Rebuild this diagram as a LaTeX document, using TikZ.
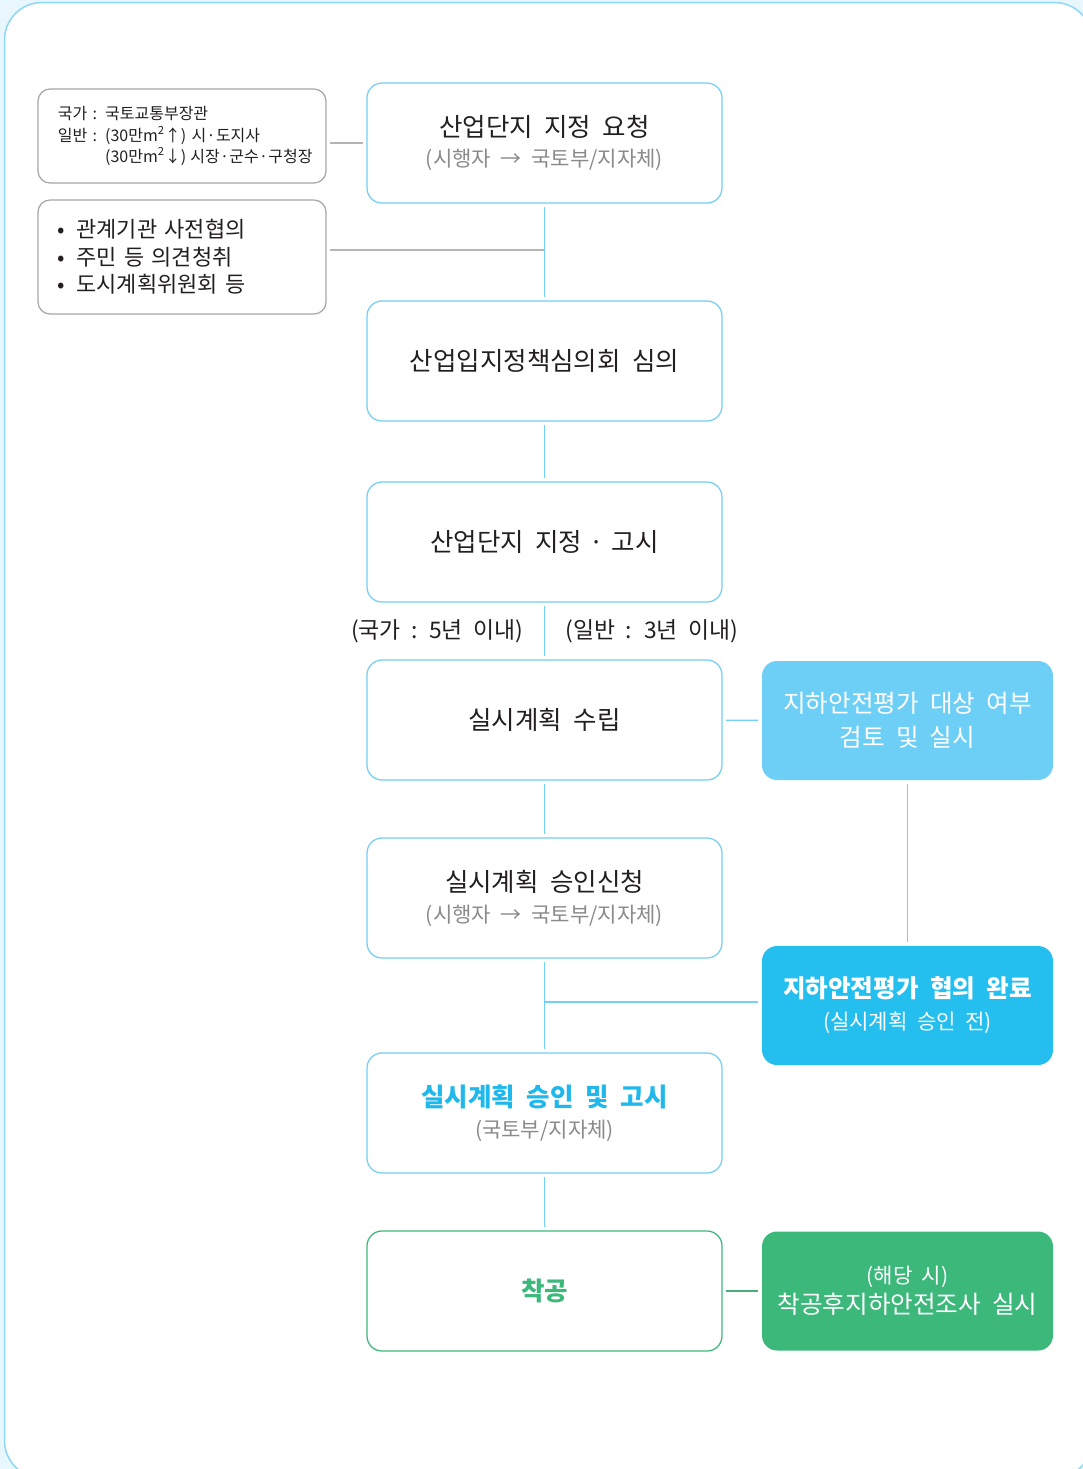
\documentclass[tikz,border=0pt]{standalone}
\usepackage{fontspec}
\setmainfont{Noto Sans CJK KR}[WordSpace=2]
\usepackage{tikz}
\usetikzlibrary{positioning}

\definecolor{bgblue}{HTML}{E8F6FD}
\definecolor{framecol}{HTML}{8DD7F7}
\definecolor{lineblue}{HTML}{74CFF5}
\definecolor{linegray}{HTML}{B4B4B4}
\definecolor{boxgray}{HTML}{A6A6A6}
\definecolor{txtblack}{HTML}{231F20}
\definecolor{subgray}{HTML}{8A8A8A}
\definecolor{skyfill}{HTML}{6DCFF6}
\definecolor{deepfill}{HTML}{25BFEF}
\definecolor{greenfill}{HTML}{3DB87B}
\definecolor{titleblue}{HTML}{1FB8EC}

\newcommand{\titlefnt}{\fontsize{14.5}{17.6}\selectfont}
\newcommand{\subfnt}{\fontsize{12}{17.6}\selectfont}
\newcommand{\middot}{\hspace{0.02em}·\hspace{0.02em}}

\tikzset{
  mainbox/.style={draw=lineblue, line width=0.25mm, rounded corners=3mm,
    minimum width=71mm, minimum height=24mm, align=center, outer sep=0.8mm,
    text=txtblack, font=\titlefnt},
  sidebox/.style={fill=#1, rounded corners=3mm, minimum width=58.2mm,
    minimum height=23.8mm, align=center, outer sep=0.8mm, text=white},
  notebox/.style={draw=boxgray, line width=0.25mm, rounded corners=2.4mm,
    minimum width=57.6mm, text width=49.6mm, inner xsep=4mm, align=left,
    outer sep=0.8mm, text=txtblack},
  link/.style={lineblue, line width=0.25mm},
  graylink/.style={linegray, line width=0.25mm},
  greenlink/.style={greenfill!80!gray, line width=0.25mm},
}

\begin{document}
\begin{tikzpicture}[x=0.2mm, y=-0.2mm]
    \useasboundingbox (0,0) rectangle (1083,1469);
    \begin{scope}
        \clip (0,0) rectangle (1083,1469);
        \fill[bgblue] (0,0) rectangle (1083,1469);
        \draw[framecol, fill=white, line width=0.3mm, rounded corners=7.5mm] (4.5,2.5) rectangle (1092,1478);
    \end{scope}

    % notes on the left
    \node[notebox, minimum height=18.8mm, font=\fontsize{9.1}{12.2}\selectfont] (lb1) at (182,136)
        {\mbox{국가 : 국토교통부장관}\\
         \mbox{일반 : (30만m\textsuperscript{2}↑) 시\middot 도지사}\\
         \mbox{\phantom{일반 : }(30만m\textsuperscript{2}↓)\hspace{0.25em}시장\middot 군수\middot 구청장}};
    \node[notebox, minimum height=22.8mm, font=\fontsize{12.5}{15.6}\selectfont] (lb2) at (182,257)
        {•\hspace{0.5em}관계기관 사전협의\\ •\hspace{0.5em}주민 등 의견청취\\ •\hspace{0.5em}도시계획위원회 등};

    % main steps
    \node[mainbox] (b1) at (544.5,143) {산업단지 지정 요청\\{\subfnt\color{subgray}(시행자 → 국토부/지자체)}};
    \node[mainbox] (b2) at (544.5,361) {산업입지정책심의회 심의};
    \node[mainbox] (b3) at (544.5,542) {산업단지 지정\hspace{0.3em}·\hspace{0.3em}고시};
    \node[mainbox] (b4) at (544.5,720) {실시계획 수립};
    \node[mainbox] (b5) at (544.5,898) {실시계획 승인신청\\{\subfnt\color{subgray}(시행자 → 국토부/지자체)}};
    \node[mainbox] (b6) at (544.5,1113) {{\bfseries\color{titleblue}실시계획 승인 및 고시}\\{\subfnt\color{subgray}(국토부/지자체)}};
    \node[mainbox, draw=greenfill] (b7) at (544.5,1291) {\bfseries\color{greenfill}착공};

    % side steps
    \node[sidebox=skyfill, font=\fontsize{14}{19.3}\selectfont] (r1) at (907.5,720.5) {지하안전평가 대상 여부\\검토 및 실시};
    \node[sidebox=deepfill, font=\fontsize{14}{18.2}\selectfont] (r2) at (907.5,1005.5)
        {{\bfseries 지하안전평가 협의 완료}\\{\subfnt (실시계획 승인 전)}};
    \node[sidebox=greenfill, font=\fontsize{14}{17}\selectfont] (r3) at (907.5,1291)
        {{\subfnt (해당 시)}\\착공후지하안전조사 실시};

    \coordinate (j1) at (544.5,250);
    \coordinate (j2) at (544.5,1002);

    \draw[graylink] (lb1.east |- b1) -- (b1.west);
    \draw[graylink] (lb2.east |- j1) -- (j1);
    \draw[link] (b1) -- (b2);
    \draw[link] (b2) -- (b3);
    \draw[link] (b3) -- node[left=3mm, text=txtblack, font=\fontsize{13}{15}\selectfont] (t5) {(국가 : 5년 이내)}
                        node[right=3mm, text=txtblack, font=\fontsize{13}{15}\selectfont] (t3) {(일반 : 3년 이내)} (b4);
    \draw[link] (b4) -- (b5);
    \draw[link] (b4) -- (r1);
    \draw[link] (r1) -- (r2);
    \draw[link] (b5) -- (b6);
    \draw[link] (j2) -- (j2 -| r2.west);
    \draw[link] (b6) -- (b7);
    \draw[greenlink] (b7) -- (r3);
\end{tikzpicture}
\end{document}
